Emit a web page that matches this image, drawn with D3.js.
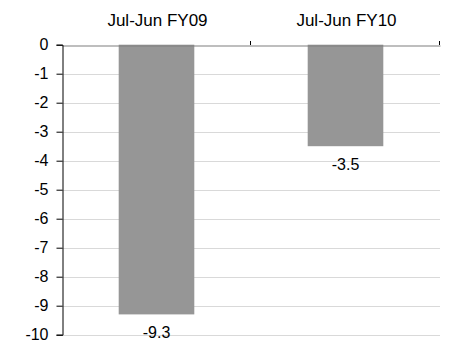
<!DOCTYPE html>
<html>
<head>
<meta charset="utf-8">
<script src="https://cdn.jsdelivr.net/npm/d3@7"></script>
<style>
  html, body { margin: 0; padding: 0; background: #fff; }
  svg { display: block; font-family: "Liberation Sans", Arial, sans-serif; }
</style>
</head>
<body>
<svg id="chart" width="462" height="348"></svg>
<script>
const categories = ["Jul-Jun FY09", "Jul-Jun FY10"];
const values = [-9.3, -3.5];
const valueLabels = ["-9.3", "-3.5"];
const yTicks = [0, -1, -2, -3, -4, -5, -6, -7, -8, -9, -10];

(function () {
const svg = d3.select("#chart");
const mLeft = 62, mRight = 440, mTop = 44.7, mBottom = 334.7;

const x = d3.scaleBand().domain(categories).range([mLeft, mRight]).paddingInner(0).paddingOuter(0);
const y = d3.scaleLinear().domain([0, -10]).range([mTop, mBottom]);

// gridlines
svg.append("g").selectAll("line").data(yTicks.filter(d => d !== 0)).join("line")
  .attr("x1", mLeft).attr("x2", mRight)
  .attr("y1", d => Math.round(y(d)) + 0.5).attr("y2", d => Math.round(y(d)) + 0.5)
  .attr("stroke", "#d9d9d9").attr("stroke-width", 1);

// bars
const barW = x.bandwidth() * 0.4;
svg.append("g").selectAll("rect").data(values).join("rect")
  .attr("x", (d, i) => x(categories[i]) + (x.bandwidth() - barW) / 2)
  .attr("width", barW)
  .attr("y", y(0))
  .attr("height", d => y(d) - y(0))
  .attr("fill", "#969696");

// top axis (categories)
const xAxis = d3.axisTop(x).tickSize(0).tickPadding(0).tickFormat(() => "");
const gx = svg.append("g").attr("transform", `translate(0,${Math.round(mTop) + 0.5})`).call(xAxis);
gx.select(".domain").attr("stroke", "#7f7f7f").attr("stroke-width", 1.2);
// category separator ticks
const sepTicks = categories.map(c => x(c) + x.bandwidth());
svg.append("g").selectAll("line").data(sepTicks).join("line")
  .attr("x1", d => Math.round(d) - 0.5).attr("x2", d => Math.round(d) - 0.5)
  .attr("y1", Math.round(mTop)).attr("y2", Math.round(mTop) - 4)
  .attr("stroke", "#000").attr("stroke-width", 1);

// category labels
svg.append("g").selectAll("text").data(categories).join("text")
  .attr("x", d => x(d) + x.bandwidth() / 2 + 1)
  .attr("y", 25.5)
  .attr("text-anchor", "middle")
  .attr("font-size", "17px")
  .attr("fill", "#000")
  .text(d => d);

// left axis
const yAxis = d3.axisLeft(y).tickValues(yTicks).tickSize(6).tickPadding(8).tickFormat(d => String(d));
const gy = svg.append("g").attr("transform", `translate(${mLeft + 0.5},0)`).call(yAxis);
gy.select(".domain").attr("stroke", "#000");
gy.selectAll(".tick line").attr("stroke", "#000");
gy.selectAll(".tick text").attr("font-size", "16px").attr("fill", "#000")
  .attr("font-family", "Liberation Sans, Arial, sans-serif");

// value labels
svg.append("g").selectAll("text").data(values).join("text")
  .attr("x", (d, i) => x(categories[i]) + x.bandwidth() / 2)
  .attr("y", d => y(d) + 24)
  .attr("text-anchor", "middle")
  .attr("font-size", "16px")
  .attr("fill", "#000")
  .text((d, i) => valueLabels[i]);
})();
</script>
</body>
</html>
